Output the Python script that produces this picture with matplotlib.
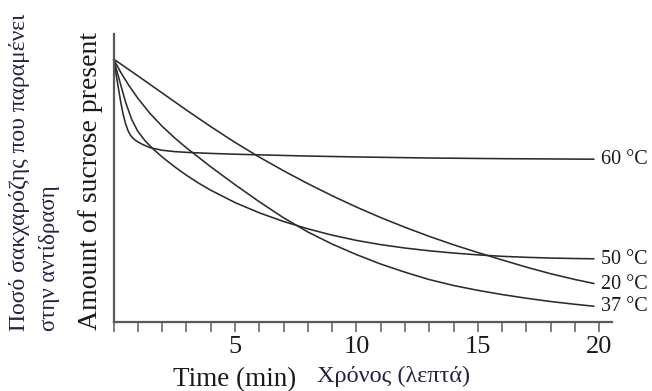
import matplotlib
matplotlib.use("Agg")
import matplotlib.pyplot as plt
from matplotlib.ticker import FixedLocator, FixedFormatter

# ---- data ----
t60 = [0, 0.1, 0.2, 0.3, 0.4, 0.5, 0.6, 0.7, 0.8, 0.9, 1.0, 1.2, 1.5, 2.0, 2.5, 3.0, 4.0, 5.0, 6.0, 8.0, 10.0, 13.0, 16.0, 19.8]
y60 = [100, 94.5, 89.0, 83.5, 78.8, 75.3, 72.7, 71.0, 69.9, 69.1, 68.5, 67.5, 66.3, 65.3, 64.8, 64.5, 64.1, 63.8, 63.55, 63.1, 62.75, 62.35, 62.1, 61.9]

t50 = [0, 0.15, 0.3, 0.5, 0.75, 1.0, 1.3, 1.6, 2.0, 2.5, 3.0, 3.5, 4.0, 5, 6, 7, 8, 9, 10, 11, 12, 13, 14, 15, 16, 17, 18, 19, 19.8]
y50 = [100, 95.05, 90.1, 83.5, 77.0, 72.5, 68.9, 66.05, 62.77, 59.12, 55.82, 52.82, 50.12, 45.42, 41.52, 38.22, 35.42, 33.02, 31.02,
       29.42, 28.12, 27.07, 26.22, 25.52, 24.97, 24.59, 24.31, 24.13, 24.03]

t37 = [0, 0.3, 0.6, 1.0, 1.5, 2.0, 2.5, 3.0, 4, 5, 6, 7, 8, 9, 10, 11, 12, 13, 14, 15, 16, 17, 18, 19, 19.8]
y37 = [100, 94.9, 90.4, 85.08, 79.33, 74.43, 70.13, 66.23, 59.03, 52.23, 45.73, 39.63, 34.23, 29.63, 25.63, 22.03, 18.93,
       16.13, 13.88, 12.03, 10.43, 9.03, 7.78, 6.73, 5.97]

t20 = [0, 1, 2, 3, 4, 5, 6, 7, 8, 9, 10, 11, 12, 13, 14, 15, 16, 17, 18, 19, 19.8]
y20 = [100, 93.6, 87.1, 80.6, 74.3, 68.3, 62.7, 57.5, 52.6, 48.0, 43.7, 39.7, 36.0, 32.55, 29.35, 26.4, 23.6, 20.85, 18.35,
       16.15, 14.59]

series_labels = ["60 °C", "50 °C", "20 °C", "37 °C"]
tick_positions = list(range(0, 21))
tick_labels = ["" if (i % 5 or i == 0) else str(i) for i in tick_positions]

en_ylabel = "Amount of sucrose present"
gr_ylabel_1 = "Ποσό σακχαρόζης που παραμένει"
gr_ylabel_2 = "στην αντίδραση"
en_xlabel = "Time (min)"
gr_xlabel = "Χρόνος (λεπτά)"

# ---- figure ----
W, H = 652, 391
fig = plt.figure(figsize=(W / 100, H / 100), dpi=100)
plt.rcParams['font.family'] = ['Liberation Serif', 'DejaVu Serif']

ax = fig.add_axes([113.5 / W, (H - 322) / H, 498.0 / W, 288 / H])
ax.set_xlim(0, 20.5)
ax.set_ylim(0, 109.5)

line_color = '#2b2b2b'
axis_color = '#5a5a5a'
for t, y, lab in [(t60, y60, series_labels[0]), (t50, y50, series_labels[1]),
                  (t20, y20, series_labels[2]), (t37, y37, series_labels[3])]:
    ax.plot(t, y, color=line_color, lw=1.15, solid_capstyle='butt',
            solid_joinstyle='round', clip_on=False)
    ax.annotate(lab, xy=(t[-1], y[-1]), xytext=(5, -0.5), textcoords='offset points',
                ha='left', va='center', fontsize=14.5, color='#1a1a1a',
                annotation_clip=False)

for s in ['top', 'right']:
    ax.spines[s].set_visible(False)
for s in ['left', 'bottom']:
    ax.spines[s].set_color(axis_color)
    ax.spines[s].set_linewidth(1.6)

ax.xaxis.set_major_locator(FixedLocator(tick_positions))
ax.xaxis.set_major_formatter(FixedFormatter(tick_labels))
ax.tick_params(axis='x', direction='out', length=7.5, width=1.1, color=axis_color,
               labelsize=19, pad=2.5, labelcolor='#1a1a1a')
ax.set_yticks([])

fig.text(91 / W, (H - 181) / H, en_ylabel, rotation=90, ha='center', va='center',
         fontsize=20, color='#1a1a1a')
gr_color = '#222244'
fig.text(20 / W, (H - 331) / H, gr_ylabel_1, rotation=90, ha='center', va='bottom',
         fontsize=17, color=gr_color)
fig.text(50 / W, (H - 331) / H, gr_ylabel_2, rotation=90, ha='center', va='bottom',
         fontsize=16.5, color=gr_color)
fig.text(235 / W, (H - 380) / H, en_xlabel, ha='center', va='center',
         fontsize=19.5, color='#1a1a1a')
fig.text(394 / W, (H - 376) / H, gr_xlabel, ha='center', va='center',
         fontsize=17.5, color=gr_color)

fig.savefig('out.png', dpi=100, facecolor='white')
